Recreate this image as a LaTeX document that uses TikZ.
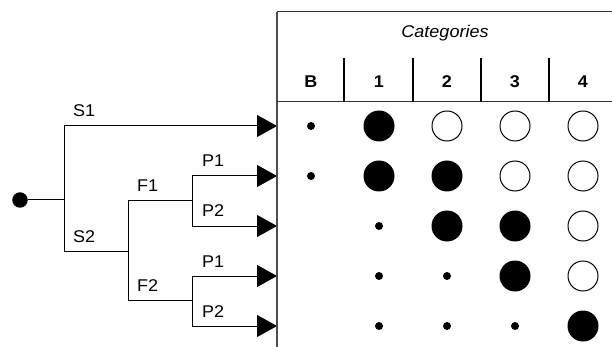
\documentclass[tikz,border=0pt]{standalone}
\usepackage{fontspec}
\setmainfont[FakeStretch=1.06]{Liberation Sans}
\usetikzlibrary{arrows.meta}
\begin{document}
\begin{tikzpicture}[x=1pt,y=-1pt,
  branch/.style={line width=1pt},
  arrowbranch/.style={line width=1pt,-{Triangle[length=20pt,width=22pt]}},
  lbl/.style={anchor=base west,inner sep=0pt,font=\fontsize{17}{20}\selectfont},
  head/.style={anchor=base,inner sep=0pt,font=\fontsize{17}{20}\selectfont\bfseries},
  bigfill/.style={circle,fill=black,minimum size=31pt,inner sep=0pt},
  bigopen/.style={circle,draw=black,line width=1pt,minimum size=30pt,inner sep=0pt},
  smalldot/.style={circle,fill=black,minimum size=8pt,inner sep=0pt},
  sep/.style={line width=2pt}
]
\useasboundingbox (0,0) rectangle (612,347);

% tree
\node[circle,fill=black,minimum size=15.5pt,inner sep=0pt] (root) at (20,200) {};
\coordinate (j0) at (64,200);
\coordinate (s1a) at (64,126);
\coordinate (s2a) at (64,251);
\coordinate (s2b) at (128,251);
\coordinate (f1a) at (128,201);
\coordinate (f2a) at (128,300);
\coordinate (f1b) at (192,201);
\coordinate (f2b) at (192,300);
\coordinate (p11) at (192,176);
\coordinate (p12) at (192,226);
\coordinate (p21) at (192,276);
\coordinate (p22) at (192,326);
\coordinate (e1) at (277,126);
\coordinate (e2) at (277,176);
\coordinate (e3) at (277,226);
\coordinate (e4) at (277,276);
\coordinate (e5) at (277,326);

\draw[branch] (root) -- (j0);
\draw[branch] (s1a) -- (s2a) -- (s2b);
\draw[branch] (f1a) -- (f2a);
\draw[branch] (f1a) -- (f1b);
\draw[branch] (f2a) -- (f2b);
\draw[branch] (p11) -- (p12);
\draw[branch] (p21) -- (p22);
\draw[arrowbranch] (s1a) -- (e1);
\draw[arrowbranch] (p11) -- (e2);
\draw[arrowbranch] (p12) -- (e3);
\draw[arrowbranch] (p21) -- (e4);
\draw[arrowbranch] (p22) -- (e5);

\node[lbl] (ls1) at (73,117) {S1};
\node[lbl] (ls2) at (73,242) {S2};
\node[lbl] (lf1) at (137,192) {F1};
\node[lbl] (lf2) at (137,291) {F2};
\node[lbl] (lp11) at (202,167) {P1};
\node[lbl] (lp12) at (202,217) {P2};
\node[lbl] (lp21) at (202,267) {P1};
\node[lbl] (lp22) at (202,317) {P2};

% table
\coordinate (tl) at (277,12);
\coordinate (tr) at (612,12);
\coordinate (bl) at (277,347);
\coordinate (hl) at (277,102);
\coordinate (hr) at (612,102);
\draw[line width=1.5pt,black!70] (tl) -- (bl);
\draw[line width=1pt,black!80] (tl) -- (tr);
\draw[line width=1pt,black!80] (hl) -- (hr);
\foreach \x/\n in {344/a,413/b,481/c,549/d}{
  \coordinate (st\n) at (\x,58);
  \coordinate (sb\n) at (\x,102);
  \draw[sep] (st\n) -- (sb\n);
}
\node[anchor=base,inner sep=0pt,font=\fontsize{17}{20}\selectfont\itshape] (cat) at (445,38) {Categories};
\node[head] (hB) at (311,88) {B};
\node[head] (h1) at (379,88) {1};
\node[head] (h2) at (447,88) {2};
\node[head] (h3) at (515,88) {3};
\node[head] (h4) at (583,88) {4};

% row 1
\node[smalldot] (r1b) at (311,126) {};
\node[bigfill] (r1c1) at (379,126) {};
\node[bigopen] (r1c2) at (447,126) {};
\node[bigopen] (r1c3) at (515,126) {};
\node[bigopen] (r1c4) at (583,126) {};
% row 2
\node[smalldot] (r2b) at (311,176) {};
\node[bigfill] (r2c1) at (379,176) {};
\node[bigfill] (r2c2) at (447,176) {};
\node[bigopen] (r2c3) at (515,176) {};
\node[bigopen] (r2c4) at (583,176) {};
% row 3
\node[smalldot] (r3c1) at (379,226) {};
\node[bigfill] (r3c2) at (447,226) {};
\node[bigfill] (r3c3) at (515,226) {};
\node[bigopen] (r3c4) at (583,226) {};
% row 4
\node[smalldot] (r4c1) at (379,276) {};
\node[smalldot] (r4c2) at (447,276) {};
\node[bigfill] (r4c3) at (515,276) {};
\node[bigopen] (r4c4) at (583,276) {};
% row 5
\node[smalldot] (r5c1) at (379,326) {};
\node[smalldot] (r5c2) at (447,326) {};
\node[smalldot] (r5c3) at (515,326) {};
\node[bigfill] (r5c4) at (583,326) {};
\end{tikzpicture}
\end{document}
